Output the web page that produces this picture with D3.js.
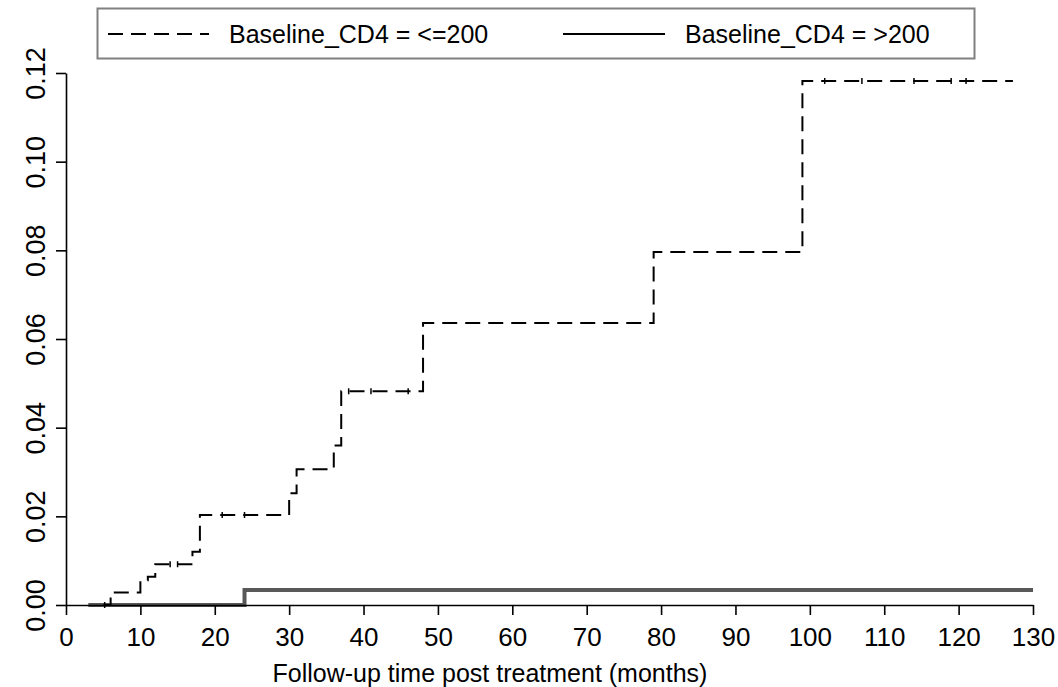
<!DOCTYPE html>
<html>
<head>
<meta charset="utf-8">
<script src="https://cdn.jsdelivr.net/npm/d3@7"></script>
<style>
  html, body { margin: 0; padding: 0; background: #fff; }
  svg { display: block; font-family: "Liberation Sans", Arial, sans-serif; }
</style>
</head>
<body>
<svg id="chart" width="1058" height="687"></svg>
<script>
// ---- data ----
const seriesNames = ["Baseline_CD4 = <=200", "Baseline_CD4 = >200"];

// step curve for CD4 <= 200 (time in months, cumulative incidence)
const lowTimes  = [5, 6, 10, 11, 12, 17, 18, 30, 31, 36, 37, 48, 79, 99, 127.3];
const lowValues = [0, 0.0028, 0.0056, 0.0064, 0.0092, 0.012, 0.0203, 0.0252, 0.0306, 0.036, 0.0482, 0.0636, 0.0796, 0.1182, 0.1182];

// step curve for CD4 > 200
const highTimes  = [3, 24, 130];
const highValues = [0, 0.0034, 0.0034];

// censoring marks seen on the <=200 curve
const lowCensor = [5.2, 14, 15, 21, 24, 38, 41, 46, 102, 107, 114, 119, 121];

const xTicks = [0, 10, 20, 30, 40, 50, 60, 70, 80, 90, 100, 110, 120, 130];
const yTicks = [0, 0.02, 0.04, 0.06, 0.08, 0.10, 0.12];
const xTitle = "Follow-up time post treatment (months)";

// ---- drawing ----
const svg = d3.select("#chart");
const x = d3.scaleLinear().domain([0, 130]).range([66, 1033]);
const y = d3.scaleLinear().domain([0, 0.12]).range([605, 73]);

const stepLine = d3.line()
  .x(d => x(d[0])).y(d => y(d[1]))
  .curve(d3.curveStepAfter);

const lowData = lowTimes.map((t, i) => [t, lowValues[i]]);
const highData = highTimes.map((t, i) => [t, highValues[i]]);

// >200 curve (thick gray solid)
svg.append("path")
  .attr("d", stepLine(highData))
  .attr("fill", "none")
  .attr("stroke", "#585858")
  .attr("stroke-width", 4);

// <=200 curve (black dashed)
svg.append("path")
  .attr("d", stepLine(lowData))
  .attr("fill", "none")
  .attr("stroke", "#000")
  .attr("stroke-width", 2)
  .attr("stroke-dasharray", "15,8");

// censor marks
function valueAt(t) {
  let v = lowValues[0];
  for (let i = 0; i < lowTimes.length; i++) if (lowTimes[i] <= t) v = lowValues[i];
  return v;
}
svg.append("g").selectAll("line").data(lowCensor).join("line")
  .attr("x1", d => x(d)).attr("x2", d => x(d))
  .attr("y1", d => y(valueAt(d)) - 3).attr("y2", d => y(valueAt(d)) + 3)
  .attr("stroke", "#000").attr("stroke-width", 1.5);

// axes
const fontSize = 26;
const xAxis = svg.append("g")
  .attr("transform", `translate(0,${y(0)})`)
  .call(d3.axisBottom(x).tickValues(xTicks).tickFormat(d3.format("d"))
        .tickSize(10).tickSizeOuter(0).tickPadding(13));
xAxis.selectAll("text").attr("font-size", fontSize).attr("fill", "#000")
  .attr("font-family", "Liberation Sans, Arial, sans-serif");

const yAxis = svg.append("g")
  .attr("transform", `translate(${x(0)},0)`)
  .call(d3.axisLeft(y).tickValues(yTicks).tickFormat(d3.format(".2f"))
        .tickSize(10).tickSizeOuter(0));
yAxis.selectAll("text")
  .attr("x", null).attr("dy", null)
  .attr("text-anchor", "middle")
  .attr("transform", "translate(-21,0) rotate(-90)")
  .attr("font-size", 27).attr("fill", "#000")
  .attr("font-family", "Liberation Sans, Arial, sans-serif");

[xAxis, yAxis].forEach(g => {
  g.selectAll("path.domain").attr("stroke", "#000").attr("stroke-width", 1.6);
  g.selectAll(".tick line").attr("stroke", "#000").attr("stroke-width", 1.6);
});

// axis title
svg.append("text")
  .attr("x", 490).attr("y", 682)
  .attr("text-anchor", "middle")
  .attr("font-size", 25)
  .attr("fill", "#000")
  .text(xTitle);

// legend
const legend = svg.append("g");
legend.append("rect")
  .attr("x", 97.5).attr("y", 8.5).attr("width", 877).attr("height", 50)
  .attr("fill", "#fff").attr("stroke", "#808080").attr("stroke-width", 2);

const legendItems = [
  { name: seriesNames[0], x0: 108, x1: 209, tx: 229, dash: "15,8", color: "#000", w: 2 },
  { name: seriesNames[1], x0: 563, x1: 665, tx: 685, dash: null, color: "#000", w: 2 }
];
legendItems.forEach(it => {
  legend.append("line")
    .attr("x1", it.x0).attr("x2", it.x1).attr("y1", 34).attr("y2", 34)
    .attr("stroke", it.color).attr("stroke-width", it.w)
    .attr("stroke-dasharray", it.dash);
  legend.append("text")
    .attr("x", it.tx).attr("y", 43)
    .attr("font-size", 25).attr("fill", "#000")
    .text(it.name);
});
</script>
</body>
</html>
